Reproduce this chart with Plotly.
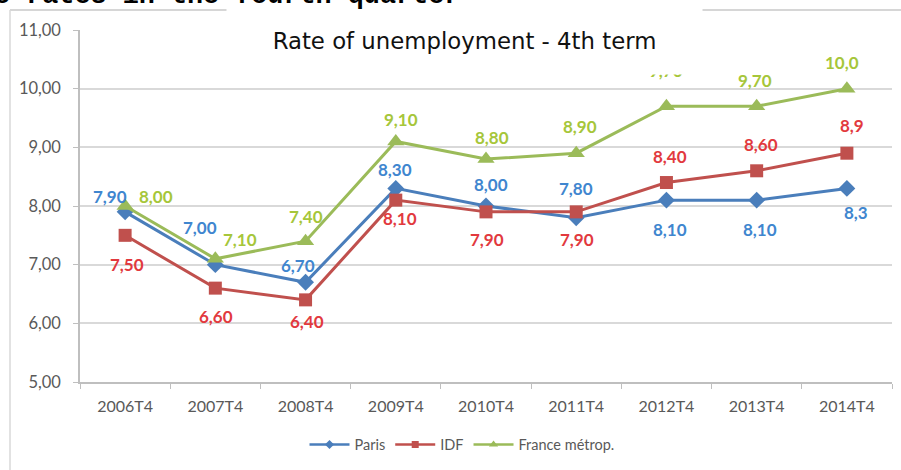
import plotly.graph_objects as go

# Quarterly unemployment rates (4th quarter of each year)
quarters = ["2006T4", "2007T4", "2008T4", "2009T4", "2010T4",
            "2011T4", "2012T4", "2013T4", "2014T4"]
paris = [7.9, 7.0, 6.7, 8.3, 8.0, 7.8, 8.1, 8.1, 8.3]
idf = [7.5, 6.6, 6.4, 8.1, 7.9, 7.9, 8.4, 8.6, 8.9]
france = [8.0, 7.1, 7.4, 9.1, 8.8, 8.9, 9.7, 9.7, 10.0]

# Value labels as printed next to each point
paris_labels = ["7,90", "7,00", "6,70", "8,30", "8,00", "7,80", "8,10", "8,10", "8,3"]
idf_labels = ["7,50", "6,60", "6,40", "8,10", "7,90", "7,90", "8,40", "8,60", "8,9"]
france_labels = ["8,00", "7,10", "7,40", "9,10", "8,80", "8,90", "9,70", "9,70", "10,0"]

y_ticks = [5, 6, 7, 8, 9, 10, 11]
y_tick_text = ["5,00", "6,00", "7,00", "8,00", "9,00", "10,00", "11,00"]

# Label offsets in pixels (dx right, dy down) for each point
paris_off = [(-15, -15), (-15, -37), (-8, -17), (-1, -19), (5, -22),
             (0, -29), (4, 29), (3, 29), (9, 24)]
idf_off = [(2, 29), (1, 28), (1, 22), (4, 18), (1, 28),
           (1, 28), (4, -26), (4, -26), (5, -28)]
france_off = [(31, -10), (25, -19), (0, -25), (5, -22), (6, -22),
              (4, -27), (0, -36), (-2, -26), (-5, -26)]

W, H = 901, 470
ML, MR, MT, MB = 80, 9, 30, 86
PW, PH = W - ML - MR, H - MT - MB


def px_x(p):
    return (p - ML) / PW


def px_y(p):
    return (H - MB - p) / PH


series = [
    dict(name="Paris", y=paris, labels=paris_labels, off=paris_off,
         line="#4A7EBB", label="#3F86CF", symbol="diamond", size=13, lsize=7),
    dict(name="IDF", y=idf, labels=idf_labels, off=idf_off,
         line="#C0504D", label="#E2393E", symbol="square", size=13, lsize=7),
    dict(name="France métrop.", y=france, labels=france_labels, off=france_off,
         line="#9BBB59", label="#A6C63A", symbol="triangle-up", size=15, lsize=8),
]

fig = go.Figure()
annotations = []
for s in series:
    fig.add_trace(go.Scatter(
        x=quarters, y=s["y"], mode="lines+markers", showlegend=False,
        line=dict(color=s["line"], width=3),
        marker=dict(symbol=s["symbol"], size=s["size"], color=s["line"]),
    ))
    for q, v, t, (dx, dy) in zip(quarters, s["y"], s["labels"], s["off"]):
        annotations.append(dict(
            x=q, y=v, xref="x", yref="y", text=t, showarrow=False,
            xshift=dx, yshift=-dy,
            font=dict(family="Lato", size=17, color=s["label"], weight="bold"),
        ))

# Legend entries with small markers
for s in series:
    fig.add_trace(go.Scatter(
        x=[None], y=[None], mode="lines+markers", name=s["name"],
        line=dict(color=s["line"], width=2.5),
        marker=dict(symbol=s["symbol"], size=s["lsize"], color=s["line"]),
    ))

# Chart title on a white box
annotations.append(dict(
    xref="paper", yref="paper", x=px_x(464.5), y=px_y(41),
    xanchor="center", yanchor="middle", showarrow=False,
    text="Rate of unemployment - 4th term",
    width=473, height=64, bgcolor="#FFFFFF", borderpad=1,
    font=dict(family="DejaVu Sans", size=22.8, color="#111111"),
))

# Heading line of the surrounding document, cut at the top edge
annotations.append(dict(
    xref="paper", yref="paper", x=px_x(-8), y=px_y(-4),
    xanchor="left", yanchor="middle", showarrow=False,
    text="e rates in the fourth quarter",
    font=dict(family="Liberation Mono", size=26.8, color="#000000", weight="bold"),
))

shapes = [
    # outer frame
    dict(type="line", xref="paper", yref="paper",
         x0=px_x(10), x1=px_x(905), y0=px_y(10), y1=px_y(10),
         line=dict(color="#C8C8C8", width=1.5)),
    dict(type="line", xref="paper", yref="paper",
         x0=px_x(10), x1=px_x(10), y0=px_y(10), y1=px_y(475),
         line=dict(color="#D8D8D8", width=1.5)),
]

fig.update_layout(
    width=W, height=H,
    margin=dict(l=ML, r=MR, t=MT, b=MB, pad=0),
    paper_bgcolor="#FFFFFF", plot_bgcolor="#FFFFFF",
    font=dict(family="Lato", color="#595959"),
    separators=", ",
    annotations=annotations,
    shapes=shapes,
    showlegend=True,
    legend=dict(
        orientation="h", x=px_x(462), xanchor="center",
        y=px_y(447), yanchor="middle",
        font=dict(family="Lato", size=14.5, color="#595959"),
        bgcolor="rgba(0,0,0,0)", itemwidth=40,
    ),
    xaxis=dict(
        type="category", range=[-0.5, 8.5],
        showgrid=False, showline=True, linecolor="#BFBFBF", linewidth=1.5,
        ticks="outside", tickson="boundaries", ticklen=5, tickcolor="#BFBFBF",
        tickfont=dict(family="Lato", size=16, color="#595959"),
        ticklabelstandoff=9, zeroline=False,
    ),
    yaxis=dict(
        range=[5, 11], tickvals=y_ticks, ticktext=y_tick_text,
        showgrid=True, gridcolor="#D9D9D9", gridwidth=1.5,
        showline=True, linecolor="#BFBFBF", linewidth=1.5,
        ticks="outside", ticklen=5, tickcolor="#BFBFBF",
        tickfont=dict(family="Lato", size=16.5, color="#595959"),
        ticklabelstandoff=9, zeroline=False,
    ),
)

fig.write_html("out.html")
